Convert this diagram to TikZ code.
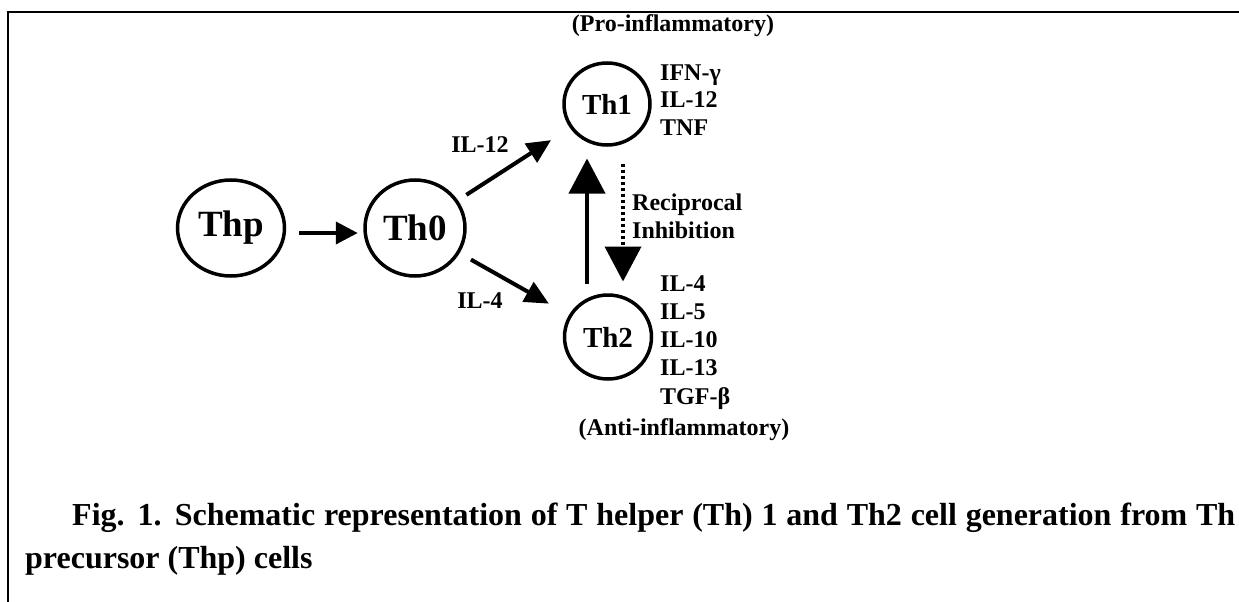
\documentclass[tikz,border=0pt]{standalone}
\usepackage{fontspec}
\setmainfont{Liberation Serif}
\usetikzlibrary{arrows.meta,shapes.geometric}

\begin{document}
\begin{tikzpicture}[x=1pt,y=-1pt,
  cell/.style={draw,ellipse,line width=3.5pt,inner sep=0pt},
  lab/.style={font=\fontsize{24}{27}\selectfont\bfseries,inner sep=0pt},
  fat/.style={line width=4pt,-{Triangle[length=24pt,width=22pt]}},
  big/.style={line width=4pt,-{Triangle[length=35pt,width=36pt]}}]
\useasboundingbox (0,0) rectangle (1239,602);
% Frame
\draw[line width=2pt] (8,602) -- (8,12) -- (1239,12);

% Cells
\node[cell,minimum width=107pt,minimum height=96pt,font=\fontsize{37}{42}\selectfont\bfseries] (thp) at (231,228) {Thp};
\node[cell,minimum width=100pt,minimum height=96pt,font=\fontsize{37}{42}\selectfont\bfseries] (th0) at (415,228) {Th0};
\node[cell,minimum width=86pt,minimum height=82pt,font=\fontsize{29}{33}\selectfont\bfseries] (th1) at (607,104) {Th1};
\node[cell,minimum width=87pt,minimum height=84pt,font=\fontsize{29}{33}\selectfont\bfseries] (th2) at (608,337) {Th2};

% Differentiation
\draw[fat,-{Triangle[length=22pt,width=22pt]},shorten <=13pt,shorten >=5.5pt] ([yshift=-5pt]thp.east) -- ([yshift=-5pt]th0.west);
\draw[fat,shorten <=10pt,shorten >=22.5pt] (th0) -- (th1);
\draw[fat,shorten <=13pt,shorten >=23pt] (th0) -- (th2);
\node[lab,anchor=base] (il12) at (480,152) {IL-12};
\node[lab,anchor=base] (il4) at (480,308) {IL-4};

% Reciprocal inhibition
\draw[big,shorten <=9.75pt,shorten >=11.75pt] ([xshift=-21pt]th2.north) -- ([xshift=-20pt]th1.south);
\draw[big,dash pattern=on 3.5pt off 2.5pt,shorten <=16.75pt,shorten >=11.75pt] ([xshift=16pt]th1.south) -- ([xshift=15pt]th2.north);
\node[lab,anchor=base west] (recip) at (632,210) {Reciprocal};
\node[lab,anchor=base west] (inhib) at (632,238) {Inhibition};

% Th1 cytokines
\node[lab,anchor=base] (pro) at (673,32) {(Pro-inflammatory)};
\node[lab,anchor=base west] (ifn) at (660,80.5) {IFN-γ};
\node[lab,anchor=base west] (th1il12) at (660,107.5) {IL-12};
\node[lab,anchor=base west] (tnf) at (660,135.5) {TNF};

% Th2 cytokines
\node[lab,anchor=base west] (il4b) at (660,291) {IL-4};
\node[lab,anchor=base west] (il5) at (660,319.5) {IL-5};
\node[lab,anchor=base west] (il10) at (660,347.5) {IL-10};
\node[lab,anchor=base west] (il13) at (660,375.5) {IL-13};
\node[lab,anchor=base west] (tgf) at (660,404.5) {TGF-β};
\node[lab,anchor=base] (anti) at (684,435) {(Anti-inflammatory)};

% Caption
\node[font=\fontsize{32}{36}\selectfont\bfseries,inner sep=0pt,anchor=base west] (cap1) at (72,525) {\makebox[1163pt][s]{Fig. 1. Schematic representation of T helper (Th) 1 and Th2 cell generation from Th}};
\node[font=\fontsize{32}{36}\selectfont\bfseries,inner sep=0pt,anchor=base west] (cap2) at (25,568) {precursor (Thp) cells};
\end{tikzpicture}
\end{document}
